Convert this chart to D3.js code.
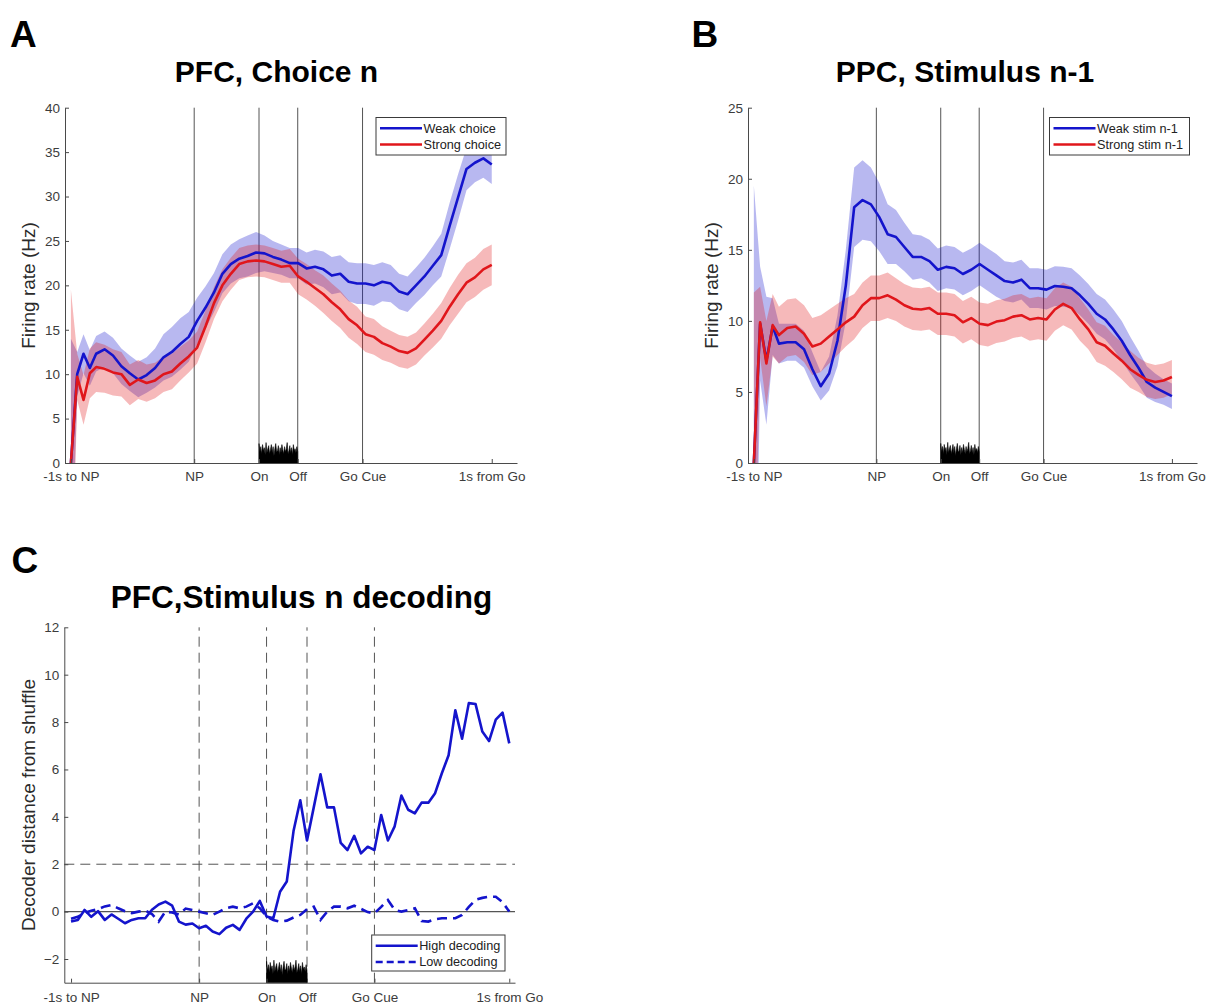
<!DOCTYPE html>
<html>
<head>
<meta charset="utf-8">
<script src="https://cdn.jsdelivr.net/npm/d3@7"></script>
<style>
  body { margin: 0; background: #fff; }
  svg { display: block; font-family: "Liberation Sans", Arial, Helvetica, sans-serif; }
</style>
</head>
<body>
<svg id="fig" width="1211" height="1007"></svg>
<script>
// ---- data ----
// A/B time axis in bins: 0 = "-1s to NP", 100 = "1s from Go"
const binsAB = [0, 1.5, 3, 4.5, 6, 8, 10, 12, 14, 16, 18, 20, 22, 24, 26, 28, 30, 32, 34, 36,
  38, 40, 42, 44, 46, 48, 50, 52, 54, 56, 58, 60, 62, 64, 66, 68, 70, 72, 74, 76,
  78, 80, 82, 84, 86, 88, 90, 92, 94, 96, 98, 100];

const eventLabels = ["-1s to NP", "NP", "On", "Off", "Go Cue", "1s from Go"];
const eventBinsAB = [0, 29.3, 44.7, 53.9, 69.3, 100];
const eventSamplesC = [0, 19, 29, 35, 45, 65];

// A: PFC, choice n
const pfcWeakChoice = [0, 10, 12.3, 10.7, 12.3, 12.8, 12.1, 10.9, 10.1, 9.4, 9.9, 10.7, 11.9, 12.5, 13.4, 14.2, 16.0, 17.5, 19.2, 21.3,
  22.4, 23.0, 23.3, 23.7, 23.6, 23.2, 22.9, 22.5, 22.5, 21.9, 22.1, 21.8, 21.1, 21.3, 20.4, 20.2, 20.2, 20.0, 20.4, 20.2,
  19.3, 19.0, 20.0, 21.0, 22.2, 23.4, 26.7, 29.9, 33.1, 33.8, 34.3, 33.6];
const pfcWeakChoiceErr = [14, 2.5, 2.2, 2.0, 2.0, 2.0, 2.0, 2.0, 2.0, 2.0, 2.0, 2.2, 2.6, 2.8, 2.9, 2.8, 2.6, 2.4, 2.2, 2.2,
  2.2, 2.2, 2.3, 2.3, 2.0, 1.8, 1.7, 1.7, 1.7, 1.8, 1.9, 2.0, 2.1, 2.1, 2.2, 2.3, 2.3, 2.3, 2.2, 2.1,
  2.0, 2.0, 2.0, 2.1, 2.2, 2.4, 2.6, 2.6, 2.4, 2.2, 2.2, 2.2];
const pfcStrongChoice = [0, 9.7, 7.1, 10.1, 10.8, 10.6, 10.2, 10.0, 8.8, 9.4, 9.0, 9.3, 10.0, 10.3, 11.2, 12.0, 13.0, 15.4, 18.0, 20.0,
  21.3, 22.4, 22.7, 22.8, 22.7, 22.4, 22.1, 22.2, 21.0, 20.4, 19.7, 19.0, 18.1, 17.3, 16.2, 15.5, 14.5, 14.2, 13.5, 13.1,
  12.6, 12.4, 12.9, 13.9, 14.9, 16.0, 17.6, 19.0, 20.3, 20.9, 21.8, 22.3];
const pfcStrongChoiceErr = [19.5, 2.6, 2.8, 2.8, 2.8, 2.7, 2.6, 2.5, 2.3, 2.2, 2.1, 2.0, 2.0, 2.0, 1.9, 1.8, 1.8, 1.8, 1.8, 1.8,
  1.8, 1.8, 1.8, 1.8, 1.8, 1.8, 1.8, 1.9, 2.0, 2.0, 2.0, 2.1, 2.1, 2.1, 2.1, 2.1, 2.0, 2.0, 1.9, 1.8,
  1.8, 1.8, 1.8, 1.8, 1.9, 2.0, 2.1, 2.2, 2.2, 2.2, 2.3, 2.3];

// B: PPC, stimulus n-1
const ppcWeakStim = [0, 9.8, 7.2, 9.6, 8.4, 8.5, 8.5, 8.0, 6.6, 5.4, 6.3, 8.6, 12.5, 18.0, 18.5, 18.2, 17.3, 16.1, 15.9, 15.2,
  14.5, 14.5, 14.2, 13.6, 13.8, 13.7, 13.3, 13.6, 14.0, 13.6, 13.2, 12.8, 12.7, 12.9, 12.3, 12.3, 12.2, 12.45, 12.4, 12.3,
  11.8, 11.2, 10.5, 10.1, 9.4, 8.6, 7.6, 6.7, 5.7, 5.3, 5.0, 4.7];
const ppcWeakStimErr = [19.5, 4.0, 4.5, 2.0, 1.4, 1.3, 1.3, 1.3, 1.2, 1.0, 1.2, 1.8, 2.5, 2.8, 2.8, 2.6, 2.4, 2.1, 1.9, 1.7,
  1.6, 1.5, 1.5, 1.5, 1.5, 1.5, 1.5, 1.5, 1.5, 1.5, 1.5, 1.4, 1.4, 1.4, 1.4, 1.4, 1.4, 1.4, 1.4, 1.4,
  1.4, 1.4, 1.4, 1.4, 1.4, 1.4, 1.3, 1.2, 1.1, 1.0, 0.9, 0.9];
const ppcStrongStim = [0, 9.9, 7.0, 9.7, 9.0, 9.5, 9.6, 9.1, 8.2, 8.4, 8.9, 9.4, 9.9, 10.3, 11.1, 11.6, 11.6, 11.8, 11.5, 11.1,
  10.85, 10.8, 10.9, 10.5, 10.5, 10.4, 9.9, 10.2, 9.8, 9.7, 9.95, 10.05, 10.3, 10.4, 10.1, 10.2, 10.1, 10.8, 11.2, 10.9,
  10.1, 9.4, 8.5, 8.25, 7.7, 7.2, 6.6, 6.2, 5.85, 5.7, 5.8, 6.05];
const ppcStrongStimErr = [12, 2.5, 3.0, 2.2, 2.0, 2.0, 2.0, 2.0, 2.0, 2.0, 1.9, 1.8, 1.7, 1.6, 1.6, 1.6, 1.6, 1.6, 1.5, 1.5,
  1.5, 1.5, 1.5, 1.5, 1.5, 1.5, 1.5, 1.5, 1.5, 1.5, 1.5, 1.5, 1.5, 1.5, 1.5, 1.5, 1.5, 1.5, 1.5, 1.5,
  1.5, 1.4, 1.4, 1.4, 1.3, 1.3, 1.3, 1.2, 1.2, 1.2, 1.2, 1.2];

// C: PFC, stimulus n decoding (one value per sample, 0..65)
const highDecoding = [-0.42, -0.35, 0.07, -0.22, 0.02, -0.35, -0.12, -0.3, -0.49, -0.35, -0.28, -0.28, 0.08, 0.3, 0.42, 0.25,
  -0.42, -0.55, -0.5, -0.7, -0.6, -0.84, -0.95, -0.68, -0.56, -0.77, -0.3, 0.0, 0.45, -0.21, -0.28, 0.84, 1.27,
  3.4, 4.7, 3.0, 4.4, 5.8, 4.4, 4.4, 2.9, 2.6, 3.2, 2.46, 2.74, 2.6, 4.08, 3.0, 3.6, 4.9, 4.3, 4.15, 4.6, 4.6,
  5.0, 5.84, 6.6, 8.5, 7.3, 8.8, 8.76, 7.6, 7.2, 8.1, 8.4, 7.1];
const lowDecoding = [-0.3, -0.22, -0.05, 0.04, 0.1, 0.22, 0.28, 0.14, 0.02, -0.06, 0, 0.05, -0.1, -0.42, 0, -0.04,
  -0.12, 0.13, 0.07, 0, -0.07, -0.14, 0, 0.14, 0.21, 0.14, 0.21, 0.35, 0.14, -0.21, -0.35, -0.42, -0.38,
  -0.25, -0.14, 0.1, 0.21, -0.35, 0, 0.21, 0.21, 0.14, 0.25, 0.12, -0.02, -0.07, 0.2, 0.49, 0.07, 0, 0.07,
  0.14, -0.4, -0.42, -0.32, -0.28, -0.28, -0.28, -0.14, 0.2, 0.5, 0.58, 0.63, 0.63, 0.4, 0];
const decodingThreshold = 2;

// stimulus histogram between On and Off (relative counts)
const stimHist = [0.95, 0.55, 0.8, 0.45, 0.9, 0.6, 0.75, 0.4, 1.0, 0.5, 0.7, 0.85, 0.45, 0.65, 0.9, 0.5, 0.8, 0.35,
  0.7, 0.95, 0.55, 0.6, 0.85, 0.4, 0.75, 0.5, 0.9, 0.65, 0.45, 0.8, 0.55, 0.7, 1.0, 0.45, 0.6, 0.85, 0.5,
  0.75, 0.4, 0.9, 0.6, 0.7, 0.5, 0.8, 0.55];

// ---- drawing ----
const BLUE = "#1414cc", RED = "#e0161b";
const svg = d3.select("#fig");

function styleAxis(g) {
  g.attr("font-family", null).attr("font-size", 13.5);
  g.select(".domain").attr("stroke", "#4a4a4a");
  g.selectAll(".tick line").attr("stroke", "#4a4a4a");
  g.selectAll(".tick text").attr("fill", "#3c3c3c");
}

function drawHist(g, x, y, base, peak, fromT, toT) {
  const hx = d3.scaleLinear().domain([0, stimHist.length - 1]).range([x(fromT), x(toT)]);
  const hy = d3.scaleLinear().domain([0, 1]).range([y(base), y(base + peak)]);
  g.append("path").datum(stimHist)
    .attr("d", d3.area().x((d, i) => hx(i)).y0(hy(0)).y1(d => hy(d)))
    .attr("fill", "#000").attr("stroke", "#000").attr("stroke-width", 0.6);
}

function legend(g, lx, ly, w, h, items) {
  g.append("rect").attr("x", lx).attr("y", ly).attr("width", w).attr("height", h)
    .attr("fill", "#fff").attr("stroke", "#3a3a3a").attr("stroke-width", 1);
  items.forEach((it, i) => {
    const yy = ly + 10.8 + i * 16.2;
    g.append("line").attr("x1", lx + 4).attr("x2", lx + 46).attr("y1", yy).attr("y2", yy)
      .attr("stroke", it.color).attr("stroke-width", 2.6)
      .attr("stroke-dasharray", it.dash || null);
    g.append("text").attr("x", lx + 47.5).attr("y", yy + 4.4)
      .attr("font-size", 12.7).attr("fill", "#222").text(it.label);
  });
}

function headings(g, letter, lx, ly, title, tx, ty, tsize, ylab, yx, yy) {
  g.append("text").attr("x", lx).attr("y", ly).attr("font-size", 37).attr("font-weight", "bold").text(letter);
  g.append("text").attr("x", tx).attr("y", ty).attr("text-anchor", "middle")
    .attr("font-size", tsize).attr("font-weight", "bold").text(title);
  g.append("text").attr("transform", `translate(${yx},${yy}) rotate(-90)`).attr("text-anchor", "middle")
    .attr("font-size", 19).attr("fill", "#2a2a2a").text(ylab);
}

function firingPanel(p) {
  const x = d3.scaleLinear().domain([-1.4, 106]).range([p.x0, p.x1]);
  const y = d3.scaleLinear().domain([0, p.yMax]).range([463, 107.7]);
  const g = svg.append("g");

  svg.append("clipPath").attr("id", p.id + "-clip").append("rect")
    .attr("x", p.x0).attr("y", y(p.yMax)).attr("width", p.x1 - p.x0).attr("height", y(0) - y(p.yMax));

  g.selectAll("line.ev").data(eventBinsAB.slice(1, 5)).join("line").attr("class", "ev")
    .attr("x1", d => x(d)).attr("x2", d => x(d)).attr("y1", y(0)).attr("y2", y(p.yMax))
    .attr("stroke", "#555").attr("stroke-width", 1);

  drawHist(g, x, y, 0, p.histPeak, eventBinsAB[2], eventBinsAB[3]);

  const bands = g.append("g").attr("clip-path", `url(#${p.id}-clip)`);
  p.series.forEach(s => {
    bands.append("path").datum(binsAB.map((t, i) => [t, s.mean[i], s.err[i]]))
      .attr("d", d3.area().x(d => x(d[0])).y0(d => y(d[1] - d[2])).y1(d => y(d[1] + d[2])))
      .attr("fill", s.color).attr("fill-opacity", 0.3);
  });
  p.series.forEach(s => {
    g.append("path").datum(binsAB.map((t, i) => [t, s.mean[i]]))
      .attr("d", d3.line().x(d => x(d[0])).y(d => y(d[1])))
      .attr("fill", "none").attr("stroke", s.color).attr("stroke-width", 2.6)
      .attr("stroke-linejoin", "round");
  });

  styleAxis(g.append("g").attr("transform", `translate(0,${y(0)})`)
    .call(d3.axisBottom(x).tickValues(eventBinsAB).tickFormat((d, i) => eventLabels[i])
      .tickSizeInner(-4).tickSizeOuter(0).tickPadding(8)));
  styleAxis(g.append("g").attr("transform", `translate(${p.x0},0)`)
    .call(d3.axisLeft(y).tickValues(d3.range(0, p.yMax + 1, 5)).tickSizeInner(-4).tickSizeOuter(0).tickPadding(5)));

  headings(g, p.letter, p.letterX, 46.7, p.title, p.titleX, 81.7, 30, "Firing rate (Hz)", p.x0 - 30, 285.5);
  legend(g, p.legX, 117.5, p.legW, 37.5, p.series);
}

firingPanel({
  id: "A", letter: "A", letterX: 10, title: "PFC, Choice n", titleX: 276.5,
  x0: 65, x1: 517, yMax: 40, histPeak: 2.3, legX: 376, legW: 130,
  series: [
    { label: "Weak choice", color: BLUE, mean: pfcWeakChoice, err: pfcWeakChoiceErr },
    { label: "Strong choice", color: RED, mean: pfcStrongChoice, err: pfcStrongChoiceErr }
  ]
});

firingPanel({
  id: "B", letter: "B", letterX: 691.5, title: "PPC, Stimulus n-1", titleX: 965,
  x0: 748, x1: 1197, yMax: 25, histPeak: 1.45, legX: 1049.5, legW: 140,
  series: [
    { label: "Weak stim n-1", color: BLUE, mean: ppcWeakStim, err: ppcWeakStimErr },
    { label: "Strong stim n-1", color: RED, mean: ppcStrongStim, err: ppcStrongStimErr }
  ]
});

// Panel C
(function () {
  const x = d3.scaleLinear().domain([-1, 65.85]).range([64.3, 515]);
  const y = d3.scaleLinear().domain([-3, 12]).range([982.7, 627.3]);
  const g = svg.append("g");

  g.selectAll("line.ev").data(eventSamplesC.slice(1, 5)).join("line").attr("class", "ev")
    .attr("x1", d => x(d)).attr("x2", d => x(d)).attr("y1", y(-3)).attr("y2", y(12))
    .attr("stroke", "#555").attr("stroke-width", 1).attr("stroke-dasharray", "10,6");
  g.append("line").attr("x1", x(-1)).attr("x2", x(65.85))
    .attr("y1", y(decodingThreshold)).attr("y2", y(decodingThreshold))
    .attr("stroke", "#555").attr("stroke-width", 1).attr("stroke-dasharray", "10,6");
  g.append("line").attr("x1", x(-1)).attr("x2", x(65.85)).attr("y1", y(0)).attr("y2", y(0))
    .attr("stroke", "#555").attr("stroke-width", 1.2);

  drawHist(g, x, y, -3, 0.95, eventSamplesC[2], eventSamplesC[3]);

  const line = d3.line().x((d, i) => x(i)).y(d => y(d));
  g.append("path").datum(lowDecoding).attr("d", line)
    .attr("fill", "none").attr("stroke", BLUE).attr("stroke-width", 2.6).attr("stroke-dasharray", "10,6");
  g.append("path").datum(highDecoding).attr("d", line)
    .attr("fill", "none").attr("stroke", BLUE).attr("stroke-width", 2.6).attr("stroke-linejoin", "round");

  styleAxis(g.append("g").attr("transform", `translate(0,${y(-3)})`)
    .call(d3.axisBottom(x).tickValues(eventSamplesC).tickFormat((d, i) => eventLabels[i])
      .tickSizeInner(-4).tickSizeOuter(0).tickPadding(10)));
  styleAxis(g.append("g").attr("transform", `translate(${x(-1)},0)`)
    .call(d3.axisLeft(y).tickValues(d3.range(-2, 13, 2)).tickSizeInner(-4).tickSizeOuter(0).tickPadding(5)));

  headings(g, "C", 11.5, 573.3, "PFC,Stimulus n decoding", 301.5, 608.3, 31.5,
    "Decoder distance from shuffle", 35, 805);
  legend(g, 371.7, 935, 133.3, 36, [
    { label: "High decoding", color: BLUE },
    { label: "Low decoding", color: BLUE, dash: "7,4" }
  ]);
})();
</script>
</body>
</html>
